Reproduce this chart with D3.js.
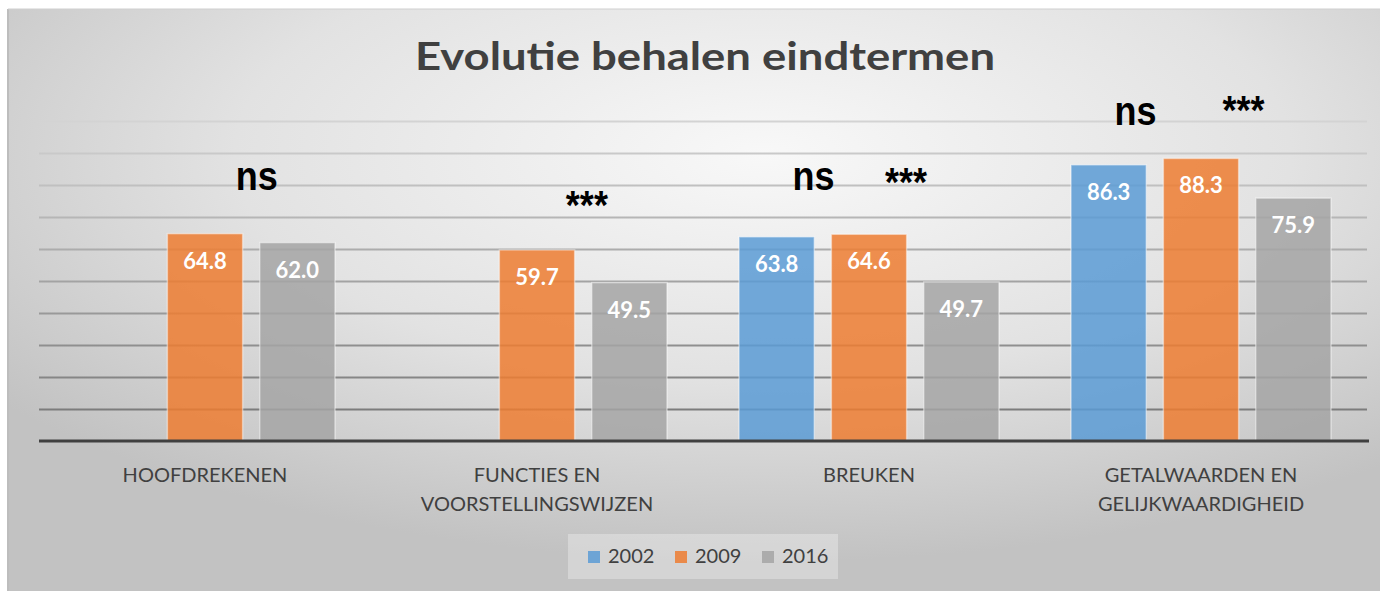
<!DOCTYPE html>
<html>
<head>
<meta charset="utf-8">
<script src="https://cdn.jsdelivr.net/npm/d3@7"></script>
<style>
  body { margin: 0; background: #fff; }
  svg { display: block; }
  .tick-label { font-family: Lato, "Open Sans", sans-serif; fill: #404040; }
  .value-label { font-family: Lato, sans-serif; font-weight: 700; fill: #fff; }
  .sig { font-family: "Liberation Sans", Arial, sans-serif; font-weight: 700; fill: #000; }
</style>
</head>
<body>
<div id="chart"></div>
<script>

var categories = ["HOOFDREKENEN", "FUNCTIES EN VOORSTELLINGSWIJZEN", "BREUKEN", "GETALWAARDEN EN GELIJKWAARDIGHEID"];
var categoryLines = [["HOOFDREKENEN"], ["FUNCTIES EN", "VOORSTELLINGSWIJZEN"], ["BREUKEN"], ["GETALWAARDEN EN", "GELIJKWAARDIGHEID"]];
var years = ["2002", "2009", "2016"];
var values2002 = [null, null, 63.8, 86.3];
var values2009 = [64.8, 59.7, 64.6, 88.3];
var values2016 = [62.0, 49.5, 49.7, 75.9];
var yTicks = [0, 10, 20, 30, 40, 50, 60, 70, 80, 90, 100];

// significance marks: text, category index, slot (in bar units), level (data units)
var sigText = ["ns", "***", "ns", "***", "ns", "***"];
var sigCategory = [0, 1, 2, 2, 3, 3];
var sigSlot = [1.56, 1.54, 0.4, 1.4, 0.29, 1.46];
var sigLevel = [78.4, 69.4, 78.4, 76.6, 98.7, 99.1];

var colors = ["#5b9bd5", "#ed7d31", "#a5a5a5"];

var W = 1380, H = 591;
var margin = { top: 121, right: 13, bottom: 150, left: 39 },
    width = W - margin.left - margin.right,
    height = H - margin.top - margin.bottom;

var svg = d3.select("#chart").append("svg")
    .attr("width", W)
    .attr("height", H);

// background
var defs = svg.append("defs");
var bg = defs.append("radialGradient")
    .attr("id", "bg")
    .attr("cx", "55%").attr("cy", "25%").attr("r", "70%");
bg.append("stop").attr("offset", "0%").attr("stop-color", "#f8f8f8");
bg.append("stop").attr("offset", "55%").attr("stop-color", "#e2e2e2");
bg.append("stop").attr("offset", "100%").attr("stop-color", "#c2c2c2");

svg.append("rect")
    .attr("x", 8).attr("y", 9)
    .attr("width", W - 8).attr("height", H - 9)
    .attr("fill", "url(#bg)");
svg.append("line")
    .attr("x1", 8).attr("x2", 8).attr("y1", 9).attr("y2", H)
    .attr("stroke", "#bdbdbd").attr("stroke-width", 2);
svg.append("line")
    .attr("x1", 8).attr("x2", W).attr("y1", 9).attr("y2", 9)
    .attr("stroke", "#cfcfcf").attr("stroke-width", 1);

var g = svg.append("g")
    .attr("transform", "translate(" + margin.left + "," + margin.top + ")");

var x0 = d3.scaleBand()
    .domain(categories)
    .range([0, width]);

var x1 = d3.scaleBand()
    .domain(years)
    .range([36, x0.bandwidth() - 36])
    .paddingInner(0.185);

var y = d3.scaleLinear()
    .domain([0, 100])
    .range([height, 0]);

// gridlines, lighter at the top
var gridColor = d3.scaleLinear()
    .domain([100, 10])
    .range(["#d3d3d3", "#7c7c7c"]);

var yAxis = d3.axisLeft(y)
    .tickValues(yTicks.filter(function(d) { return d > 0; }))
    .tickSize(-width)
    .tickFormat("");
g.append("g")
    .attr("class", "grid")
    .call(yAxis)
    .call(function(s) { s.select(".domain").remove(); })
    .selectAll(".tick line")
    .attr("stroke", function(d) { return gridColor(d); })
    .attr("stroke-width", 2);

// bars
var series = [values2002, values2009, values2016];
var barData = [];
categories.forEach(function(c, i) {
    years.forEach(function(yr, j) {
        if (series[j][i] != null) barData.push({ cat: c, year: yr, s: j, value: series[j][i] });
    });
});

var bars = g.selectAll("g.bar")
    .data(barData)
  .enter().append("g")
    .attr("class", "bar")
    .attr("transform", function(d) { return "translate(" + (x0(d.cat) + x1(d.year)) + ",0)"; });

bars.append("rect")
    .attr("x", 0)
    .attr("y", function(d) { return y(d.value); })
    .attr("width", x1.bandwidth())
    .attr("height", function(d) { return height - y(d.value); })
    .attr("fill", function(d) { return colors[d.s]; })
    .attr("fill-opacity", 0.85)
    .attr("stroke", "#ffffff")
    .attr("stroke-opacity", 0.45)
    .attr("stroke-width", 1.5);

bars.append("text")
    .attr("class", "value-label")
    .attr("x", x1.bandwidth() / 2)
    .attr("y", function(d) { return y(d.value) + 35; })
    .attr("text-anchor", "middle")
    .style("font-size", "22px")
    .text(function(d) { return d3.format(".1f")(d.value); });

// baseline
g.append("line")
    .attr("x1", 0).attr("x2", width + 2)
    .attr("y1", y(0)).attr("y2", y(0))
    .attr("stroke", "#404040")
    .attr("stroke-width", 3);

// category labels
var xAxis = d3.axisBottom(x0).tickSize(0).tickFormat("");
var xg = g.append("g")
    .attr("transform", "translate(0," + height + ")")
    .call(xAxis);
xg.select(".domain").remove();
xg.selectAll(".tick").append("text")
    .attr("class", "tick-label")
    .attr("text-anchor", "middle")
    .style("font-size", "20px")
    .selectAll("tspan")
    .data(function(d) { return categoryLines[categories.indexOf(d)]; })
  .enter().append("tspan")
    .attr("x", 0)
    .attr("y", function(d, i) { return 41 + i * 29; })
    .text(function(d) { return d; });

// significance marks
g.selectAll("text.sig")
    .data(sigText)
  .enter().append("text")
    .attr("class", "sig")
    .attr("text-anchor", "middle")
    .style("font-size", "36px")
    .attr("transform", function(d, i) {
        var c = categories[sigCategory[i]];
        var xs = x0(c) + x1.range()[0] + x1.step() * sigSlot[i] + x1.bandwidth() / 2;
        return "translate(" + xs + "," + y(sigLevel[i]) + ") scale(1,1.15)";
    })
    .text(function(d) { return d; });

// title
svg.append("text")
    .attr("x", margin.left + width / 2 + 2)
    .attr("y", 70)
    .attr("text-anchor", "middle")
    .attr("textLength", 580)
    .attr("lengthAdjust", "spacingAndGlyphs")
    .style("font-family", "Lato, sans-serif")
    .style("font-weight", 700)
    .style("font-size", "39px")
    .attr("fill", "#404040")
    .text("Evolutie behalen eindtermen");

// legend
var legendX = 568, legendY = 534, legendStep = 87;
svg.append("rect")
    .attr("x", legendX).attr("y", legendY)
    .attr("width", 270).attr("height", 45)
    .attr("fill", "#ffffff").attr("fill-opacity", 0.3);
var legend = svg.selectAll("g.legend")
    .data(years)
  .enter().append("g")
    .attr("class", "legend")
    .attr("transform", function(d, i) { return "translate(" + (legendX + 20 + i * legendStep) + "," + (legendY + 17) + ")"; });
legend.append("rect")
    .attr("width", 12).attr("height", 12)
    .attr("fill", function(d, i) { return colors[i]; })
    .attr("fill-opacity", 0.85);
legend.append("text")
    .attr("class", "tick-label")
    .attr("x", 20).attr("y", 12)
    .style("font-size", "20px")
    .text(function(d) { return d; });

</script>
</body>
</html>
